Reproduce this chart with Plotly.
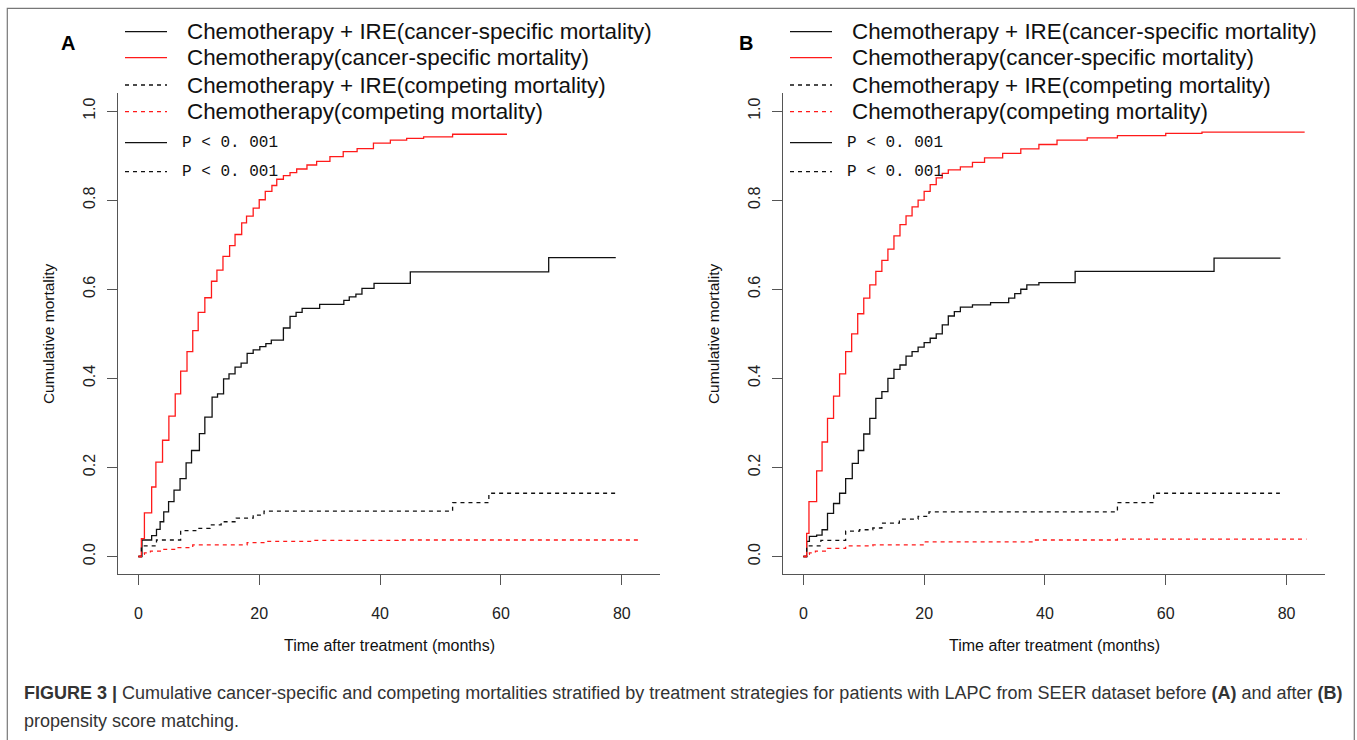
import plotly.graph_objects as go

W, H = 1357, 740

# ---------------- data ----------------
# Panel A (before PSM)
a_ire_csm_t = [0, 0.6, 2.2, 3.0, 3.6, 4.2, 5.0, 5.9, 6.9, 7.9, 8.8, 10.1, 11.0, 12.2, 13.1, 14.1, 15.0, 16.0,
               17.0, 18.0, 19.0, 20.1, 21.1, 22.0, 24.0, 25.1, 26.1, 27.1, 30.0, 34.0, 34.9, 36.0, 37.0, 39.0,
               45.0, 67.9, 79.0]
a_ire_csm_v = [0, 0.037, 0.047, 0.061, 0.078, 0.100, 0.123, 0.149, 0.175, 0.210, 0.238, 0.276, 0.313, 0.358,
               0.365, 0.399, 0.410, 0.425, 0.434, 0.456, 0.464, 0.471, 0.478, 0.486, 0.513, 0.539, 0.548, 0.557,
               0.566, 0.575, 0.583, 0.589, 0.602, 0.613, 0.639, 0.671, 0.671]

a_chemo_csm_t = [0, 0.5, 1.0, 2.2, 2.9, 4.0, 5.05, 6.1, 7.0, 8.05, 9.0, 9.9, 11.0, 12.1, 13.0, 14.0, 15.1, 16.0,
                 17.1, 17.9, 19.0, 20.0, 21.0, 22.1, 22.9, 24.0, 25.1, 26.2, 27.9, 29.5, 31.7, 33.9, 36.2, 38.9,
                 41.7, 44.4, 47.2, 52.0, 61.0]
a_chemo_csm_v = [0, 0.040, 0.098, 0.156, 0.212, 0.261, 0.315, 0.365, 0.416, 0.460, 0.507, 0.548, 0.581, 0.618,
                 0.643, 0.674, 0.698, 0.723, 0.749, 0.764, 0.782, 0.801, 0.820, 0.833, 0.847, 0.855, 0.862, 0.870,
                 0.879, 0.887, 0.898, 0.909, 0.916, 0.928, 0.935, 0.939, 0.942, 0.948, 0.948]

a_ire_comp_t = [0, 0.5, 3.0, 7.0, 9.5, 11.9, 13.7, 16.2, 19.0, 20.8, 52.0, 58.0, 79.0]
a_ire_comp_v = [0, 0.024, 0.037, 0.058, 0.063, 0.071, 0.078, 0.086, 0.093, 0.102, 0.121, 0.142, 0.142]

a_chemo_comp_t = [0, 0.5, 1.0, 2.0, 4.0, 6.0, 9.0, 18.0, 21.0, 29.0, 43.0, 83.3]
a_chemo_comp_v = [0, 0.005, 0.008, 0.012, 0.016, 0.020, 0.026, 0.031, 0.034, 0.036, 0.037, 0.037]

# Panel B (after PSM)
b_ire_csm_t = [0, 0.55, 1.0, 2.2, 3.1, 4.0, 5.0, 6.0, 7.0, 8.1, 9.1, 10.0, 11.0, 12.0, 13.0, 14.0, 15.0, 16.0,
               17.0, 18.0, 19.0, 20.0, 21.0, 22.0, 23.0, 24.0, 25.0, 26.0, 28.0, 31.0, 34.0, 35.0, 36.0, 37.0,
               39.0, 45.0, 68.0, 79.0]
b_ire_csm_v = [0, 0.034, 0.045, 0.048, 0.060, 0.097, 0.119, 0.142, 0.175, 0.209, 0.238, 0.275, 0.310, 0.355,
               0.370, 0.400, 0.420, 0.430, 0.450, 0.460, 0.470, 0.480, 0.490, 0.500, 0.520, 0.540, 0.550, 0.560,
               0.565, 0.570, 0.580, 0.590, 0.600, 0.610, 0.615, 0.640, 0.670, 0.670]

b_chemo_csm_t = [0, 0.55, 0.93, 2.2, 3.1, 4, 5, 6, 7, 8, 9, 10, 11, 12, 13, 14, 15, 16, 17, 18, 19, 20, 21, 22,
                 23, 24, 26, 28, 30, 33, 36, 39, 42, 47, 52, 60, 66, 83]
b_chemo_csm_v = [0, 0.052, 0.123, 0.192, 0.257, 0.310, 0.360, 0.410, 0.460, 0.500, 0.545, 0.580, 0.610, 0.640,
                 0.665, 0.690, 0.720, 0.745, 0.765, 0.785, 0.800, 0.820, 0.835, 0.850, 0.860, 0.868, 0.875,
                 0.885, 0.895, 0.905, 0.915, 0.925, 0.935, 0.940, 0.945, 0.950, 0.953, 0.953]

b_ire_comp_t = [0, 0.55, 2.9, 7.0, 9.3, 11.5, 13.0, 15.9, 19.0, 20.8, 52.0, 58.0, 78.9]
b_ire_comp_v = [0, 0.024, 0.036, 0.057, 0.060, 0.064, 0.075, 0.084, 0.090, 0.100, 0.121, 0.142, 0.142]

b_chemo_comp_t = [0, 0.5, 1.0, 2.0, 4.0, 7.0, 11.5, 20.0, 38.0, 52.0, 83.3]
b_chemo_comp_v = [0, 0.005, 0.008, 0.012, 0.018, 0.024, 0.026, 0.033, 0.037, 0.039, 0.039]

legend_labels = ["Chemotherapy + IRE(cancer-specific mortality)",
                 "Chemotherapy(cancer-specific mortality)",
                 "Chemotherapy + IRE(competing mortality)",
                 "Chemotherapy(competing mortality)"]
p_labels = ["P < 0. 001", "P < 0. 001"]
x_ticks = [0, 20, 40, 60, 80]
y_ticks = [0.0, 0.2, 0.4, 0.6, 0.8, 1.0]
y_tick_text = ["0.0", "0.2", "0.4", "0.6", "0.8", "1.0"]
x_title = "Time after treatment (months)"
y_title = "Cumulative mortality"
panel_labels = ["A", "B"]
caption1 = ("<b>FIGURE 3 |</b> Cumulative cancer-specific and competing mortalities stratified by treatment "
            "strategies for patients with LAPC from SEER dataset before <b>(A)</b> and after <b>(B)</b>")
caption2 = "propensity score matching."

# ---------------- styling ----------------
BLACK = "#111111"
RED = "#ff1a1a"
AXC = "#555555"
FONT = "Liberation Sans"
DASH = "4px,4px"


def px(x):
    return x / W


def py(y):
    return 1 - y / H


fig = go.Figure()

panels = [
    ("x", "y", [(a_ire_csm_t, a_ire_csm_v, BLACK, "solid"),
                (a_chemo_csm_t, a_chemo_csm_v, RED, "solid"),
                (a_ire_comp_t, a_ire_comp_v, BLACK, DASH),
                (a_chemo_comp_t, a_chemo_comp_v, RED, DASH)]),
    ("x2", "y2", [(b_ire_csm_t, b_ire_csm_v, BLACK, "solid"),
                  (b_chemo_csm_t, b_chemo_csm_v, RED, "solid"),
                  (b_ire_comp_t, b_ire_comp_v, BLACK, DASH),
                  (b_chemo_comp_t, b_chemo_comp_v, RED, DASH)]),
]
for xa, ya, series in panels:
    for t, v, c, d in series:
        fig.add_trace(go.Scatter(x=t, y=v, mode="lines", line=dict(color=c, width=1.3, dash=d, shape="hv"),
                                 xaxis=xa, yaxis=ya, showlegend=False, hoverinfo="skip"))

# panel geometry in pixels
left_px = [118.3, 783.3]
right_px = [660.0, 1324.7]
top_px, bot_px = 93.3, 574.3

axis_common = dict(showline=True, linecolor=AXC, linewidth=1, ticks="outside", ticklen=10, tickcolor=AXC,
                   tickwidth=1, showgrid=False, zeroline=False,
                   tickfont=dict(family=FONT, size=16, color="#222222"))

layout = dict(width=W, height=H, margin=dict(l=0, r=0, t=0, b=0), plot_bgcolor="white",
              paper_bgcolor="white", showlegend=False)
for i, (xa, ya) in enumerate([("xaxis", "yaxis"), ("xaxis2", "yaxis2")]):
    xn = "x" if i == 0 else "x2"
    yn = "y" if i == 0 else "y2"
    layout[xa] = dict(domain=[px(left_px[i]), px(right_px[i])], range=[-3.32, 86.32], anchor=yn,
                      tickmode="array", tickvals=x_ticks, ticktext=[str(v) for v in x_ticks],
                      ticklabelstandoff=14, **axis_common)
    layout[ya] = dict(domain=[py(bot_px), py(top_px)], range=[-0.04, 1.04], anchor=xn,
                      tickmode="array", tickvals=y_ticks, ticktext=y_tick_text, tickangle=-90,
                      ticklabelstandoff=6, **axis_common)
fig.update_layout(**layout)

annotations = []
shapes = []
# outer frame
shapes.append(dict(type="rect", xref="paper", yref="paper", x0=px(7.3), x1=px(1354.3), y0=py(745), y1=py(8.3),
                   line=dict(color="#777777", width=1.2), fillcolor="rgba(0,0,0,0)", layer="below"))

legend_rows = [31.7, 57.7, 85.0, 111.7]
p_rows = [142.7, 171.7]
styles = [(BLACK, "solid"), (RED, "solid"), (BLACK, "dash"), (RED, "dash")]
label_x = [68, 746]
for i in range(2):
    off = left_px[i] - left_px[0]
    annotations.append(dict(text="<b>%s</b>" % panel_labels[i], x=px(label_x[i]), y=py(42.5), xref="paper",
                            yref="paper", showarrow=False, xanchor="center", yanchor="middle",
                            font=dict(family=FONT, size=20, color="#000000")))
    for r, (yy, lab) in enumerate(zip(legend_rows, legend_labels)):
        c, d = styles[r]
        shapes.append(dict(type="line", xref="paper", yref="paper", x0=px(125 + off), x1=px(167 + off),
                           y0=py(yy), y1=py(yy), line=dict(color=c, width=1.3, dash=DASH if d == "dash" else "solid")))
        annotations.append(dict(text=lab, x=px(185 + off), y=py(yy), xref="paper", yref="paper", showarrow=False,
                                xanchor="left", yanchor="middle", font=dict(family=FONT, size=22.4, color="#111111")))
    for r, (yy, lab) in enumerate(zip(p_rows, p_labels)):
        shapes.append(dict(type="line", xref="paper", yref="paper", x0=px(125 + off), x1=px(167 + off),
                           y0=py(yy), y1=py(yy),
                           line=dict(color=BLACK, width=1.3, dash="solid" if r == 0 else DASH)))
        annotations.append(dict(text=lab, x=px(180 + off), y=py(yy), xref="paper", yref="paper", showarrow=False,
                                xanchor="left", yanchor="middle",
                                font=dict(family="Liberation Mono", size=16, color="#111111")))
    cx = (left_px[i] + right_px[i]) / 2
    annotations.append(dict(text=x_title, x=px(cx), y=py(645), xref="paper", yref="paper", showarrow=False,
                            xanchor="center", yanchor="middle", font=dict(family=FONT, size=16, color="#111111")))
    annotations.append(dict(text=y_title, x=px(left_px[i] - 70), y=py((top_px + bot_px) / 2), xref="paper",
                            yref="paper", showarrow=False, textangle=-90, xanchor="center", yanchor="middle",
                            font=dict(family=FONT, size=15.5, color="#111111")))

annotations.append(dict(text=caption1, x=px(22), y=py(693), xref="paper", yref="paper", showarrow=False,
                        xanchor="left", yanchor="middle", font=dict(family=FONT, size=18, color="#333333")))
annotations.append(dict(text=caption2, x=px(22), y=py(721), xref="paper", yref="paper", showarrow=False,
                        xanchor="left", yanchor="middle", font=dict(family=FONT, size=18, color="#333333")))

fig.update_layout(annotations=annotations, shapes=shapes)
fig.write_html("out.html")
